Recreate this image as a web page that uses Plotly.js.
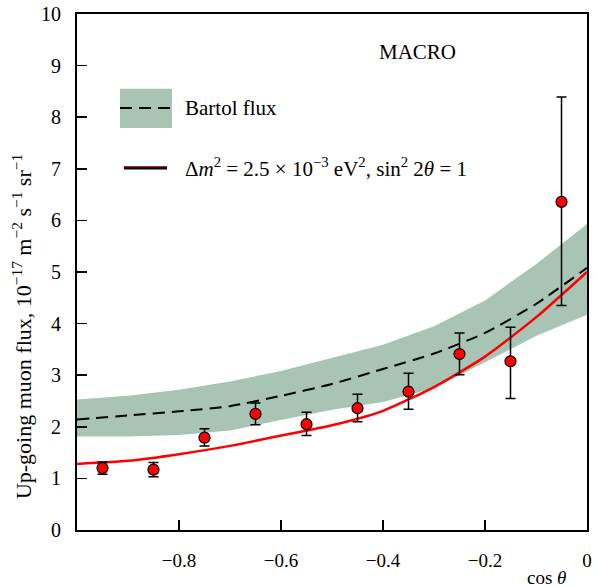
<!DOCTYPE html>
<html>
<head>
<meta charset="utf-8">
<script src="https://cdn.plot.ly/plotly-3.0.1.min.js"></script>
<style>html,body{margin:0;padding:0;background:#fff;}#chart{width:600px;height:587px;}</style>
</head>
<body>
<div id="chart"></div>
<script>
// Data points (MACRO)
var cosTheta = [-0.95, -0.85, -0.75, -0.65, -0.55, -0.45, -0.35, -0.25, -0.15, -0.05];
var flux     = [1.20, 1.17, 1.79, 2.25, 2.05, 2.36, 2.68, 3.41, 3.27, 6.36];
var errUp    = [0.12, 0.14, 0.17, 0.21, 0.23, 0.27, 0.36, 0.41, 0.66, 2.03];
var errDown  = [0.12, 0.14, 0.16, 0.21, 0.22, 0.26, 0.34, 0.40, 0.72, 2.01];

// Model curves
var curveX     = [-1, -0.9, -0.8, -0.7, -0.6, -0.5, -0.4, -0.3, -0.2, -0.1, 0];
var bartolTop  = [2.53, 2.60, 2.72, 2.88, 3.08, 3.33, 3.59, 3.95, 4.45, 5.15, 5.93];
var bartolBot  = [1.81, 1.81, 1.84, 1.93, 2.13, 2.33, 2.48, 2.75, 3.25, 3.76, 4.17];
var bartol     = [2.14, 2.22, 2.30, 2.40, 2.60, 2.83, 3.12, 3.42, 3.82, 4.38, 5.08];
var oscillated = [1.28, 1.34, 1.47, 1.63, 1.83, 2.03, 2.31, 2.77, 3.36, 4.12, 5.00];

var xTicks = [-0.8, -0.6, -0.4, -0.2, 0];
var xTickText = ['\u22120.8', '\u22120.6', '\u22120.4', '\u22120.2', '0'];
var yTicks = [0, 1, 2, 3, 4, 5, 6, 7, 8, 9, 10];

var band = '#a7c4b4';
var serif = 'Liberation Serif, Times New Roman, serif';

var traces = [
  {x: curveX, y: bartolBot, mode: 'lines', line: {width: 0, color: band}, hoverinfo: 'skip', showlegend: false},
  {x: curveX, y: bartolTop, mode: 'lines', fill: 'tonexty', fillcolor: band, line: {width: 0, color: band}, hoverinfo: 'skip', showlegend: false},
  {x: curveX, y: bartol, mode: 'lines', line: {color: '#000', width: 2, dash: '12px,7px', shape: 'spline', smoothing: 0.6}, showlegend: false},
  {x: curveX, y: oscillated, mode: 'lines', line: {color: '#ff0000', width: 2.5, shape: 'spline', smoothing: 0.6}, showlegend: false},
  {x: cosTheta, y: flux, mode: 'markers',
   marker: {color: '#ff0000', size: 11, line: {color: '#000', width: 1.2}},
   error_y: {type: 'data', symmetric: false, array: errUp, arrayminus: errDown, color: '#000', thickness: 1.5, width: 5},
   showlegend: false}
];

var layout = {
  width: 600, height: 587,
  margin: {l: 77, r: 13, t: 14, b: 57},
  paper_bgcolor: '#fff', plot_bgcolor: '#fff',
  font: {family: serif, color: '#000', size: 20},
  showlegend: false,
  xaxis: {
    range: [-1, 0], tickvals: xTicks, ticktext: xTickText,
    ticks: 'inside', ticklen: 10, tickwidth: 1.5, tickcolor: '#000',
    showline: true, linewidth: 2, linecolor: '#000', mirror: true,
    showgrid: false, zeroline: false, ticklabelstandoff: 12,
    tickfont: {family: serif, size: 19, color: '#000'}
  },
  yaxis: {
    range: [0, 10], tickvals: yTicks,
    ticks: 'inside', ticklen: 10, tickwidth: 1.5, tickcolor: '#000',
    showline: true, linewidth: 2, linecolor: '#000', mirror: true,
    showgrid: false, zeroline: false, ticklabelstandoff: 10,
    tickfont: {family: serif, size: 20, color: '#000'}
  },
  shapes: [
    {type: 'rect', xref: 'paper', yref: 'paper', x0: 0.0843, x1: 0.1863, y0: 0.779, y1: 0.855, fillcolor: band, line: {width: 0}},
    {type: 'line', xref: 'paper', yref: 'paper', x0: 0.0843, x1: 0.1863, y0: 0.818, y1: 0.818, line: {color: '#000', width: 2, dash: '12px,7px'}},
    {type: 'line', xref: 'paper', yref: 'paper', x0: 0.092, x1: 0.1765, y0: 0.7016, y1: 0.7016, line: {color: '#000', width: 3}},
    {type: 'line', xref: 'paper', yref: 'paper', x0: 0.092, x1: 0.1765, y0: 0.7036, y1: 0.7036, line: {color: '#8a0000', width: 1}}
  ],
  annotations: [
    {text: 'MACRO', xref: 'paper', yref: 'paper', x: 0.667, y: 0.926, xanchor: 'center', yanchor: 'middle', showarrow: false, font: {family: serif, size: 21, color: '#000'}},
    {text: 'Bartol flux', xref: 'paper', yref: 'paper', x: 0.208, y: 0.818, xanchor: 'left', yanchor: 'middle', showarrow: false, font: {family: serif, size: 21, color: '#000'}},
    {text: '\u0394<i>m</i><sup>2</sup> = 2.5 \u00d7 10<sup>\u22123</sup> eV<sup>2</sup>, sin<sup>2</sup> 2<i>\u03b8</i> = 1', xref: 'paper', yref: 'paper', x: 0.208, y: 0.7016, xanchor: 'left', yanchor: 'middle', showarrow: false, font: {family: serif, size: 21, color: '#000'}},
    {text: 'cos <i>\u03b8</i>', xref: 'paper', yref: 'paper', x: 0.92, y: -0.092, xanchor: 'center', yanchor: 'middle', showarrow: false, font: {family: serif, size: 19, color: '#000'}},
    {text: 'Up-going muon flux, 10<sup>\u221217</sup> m<sup>\u22122</sup> s<sup>\u22121</sup> sr<sup>\u22121</sup>', xref: 'paper', yref: 'paper', x: -0.108, y: 0.395, xanchor: 'center', yanchor: 'middle', textangle: -90, showarrow: false, font: {family: serif, size: 22, color: '#000'}}
  ]
};

Plotly.newPlot('chart', traces, layout, {displayModeBar: false, staticPlot: true});
</script>
</body>
</html>
